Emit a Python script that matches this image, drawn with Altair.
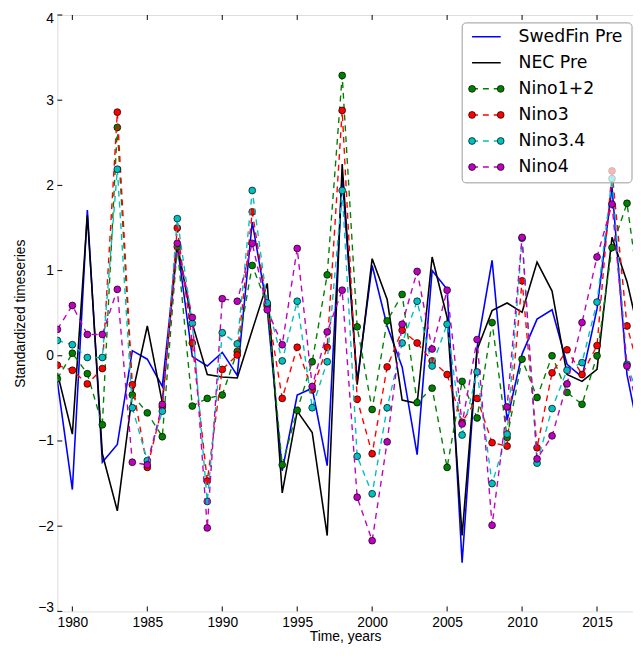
import altair as alt
import pandas as pd

years = list(range(1979, 2019))

swedfin = [-0.30, -1.57, 1.71, -1.25, -1.04, 0.06, -0.04, -0.36, 1.30, -0.01,
           -0.12, 0.04, -0.23, 1.57, 0.55, -1.35, -0.46, -0.38, -1.29, 2.10,
           -0.30, 1.06, 0.35, -0.13, -1.16, 1.00, 0.78, -2.43, 0.10, 1.12,
           -0.76, 0.02, 0.43, 0.54, -0.10, -0.25, 0.55, 1.98, -0.22, -1.10]
nec = [-0.20, -0.92, 1.65, -1.15, -1.82, -0.45, 0.35, -0.55, 1.31, 0.38,
       -0.22, -0.25, -0.26, 0.30, 0.85, -1.61, -0.65, -0.90, -2.11, 2.25,
       -0.34, 1.14, 0.66, -0.52, -0.56, 1.16, 0.45, -2.11, 0.07, 0.53,
       0.62, 0.51, 1.10, 0.76, -0.22, -0.30, -0.16, 1.39, 0.87, 0.10]
nino12 = [-0.27, 0.03, -0.21, -0.81, 2.68, -0.46, -0.67, -0.95, 1.28, -0.59,
          -0.50, -0.46, 0.05, 1.06, 0.60, -1.28, -0.64, -0.07, 0.95, 3.29,
          0.34, -0.63, 0.41, 0.72, -0.55, -0.38, -1.31, -0.30, -0.73, 0.39,
          -0.96, -0.04, -0.49, 0.00, -0.43, -0.57, 0.00, 1.27, 1.79, 0.50]
nino3 = [-0.11, -0.17, -0.33, -0.15, 2.86, -0.34, -1.31, -0.60, 1.50, 0.15,
         -1.47, -0.16, 0.01, 1.69, 0.58, -0.50, 0.10, -0.40, 0.10, 2.88,
         -0.51, -1.15, -0.13, 0.30, 0.15, -0.06, -0.22, -0.78, -0.50, -1.02,
         -1.06, 0.88, -1.08, -0.20, 0.07, -0.22, 0.12, 2.17, 0.35, -0.30]
nino34 = [0.18, 0.13, -0.02, -0.02, 2.19, -0.61, -1.23, -0.65, 1.61, 0.38,
          -1.71, 0.27, 0.14, 1.94, 0.62, -0.06, 0.64, -0.61, -0.07, 1.94,
          -1.18, -1.62, -0.61, 0.15, 0.64, -0.12, 0.37, -0.93, -0.19, -1.50,
          -0.92, 1.38, -1.26, -0.62, -0.17, -0.08, 0.63, 2.08, -0.10, -0.60]
nino4 = [0.31, 0.59, 0.25, 0.25, 0.78, -1.25, -1.28, -0.57, 1.32, 0.45,
         -2.02, 0.67, 0.64, 1.32, 0.54, 0.13, 1.26, -0.36, 0.28, 0.77,
         -1.66, -2.17, -1.01, 0.37, 0.99, 0.08, 0.77, -0.80, 0.19, -1.99,
         -0.60, 1.39, -1.21, -0.94, -0.33, 0.39, 1.16, 1.78, -0.12, -0.80]

names = ["SwedFin Pre", "NEC Pre", "Nino1+2", "Nino3", "Nino3.4", "Nino4"]
colors = ["#0000ff", "#000000", "#008000", "#ff0000", "#00bfbf", "#bf00bf"]
kinds = ["solid", "solid", "dashed", "dashed", "dashed", "dashed"]
x_ticks = [1980, 1985, 1990, 1995, 2000, 2005, 2010, 2015]
y_ticks = [-3, -2, -1, 0, 1, 2, 3, 4]

series_vals = [swedfin, nec, nino12, nino3, nino34, nino4]
rows = []
for n, vals in zip(names, series_vals):
    for yr, v in zip(years, vals):
        rows.append({"year": yr, "value": v, "series": n})
df = pd.DataFrame(rows)

W, H = 583, 604
FONT = "DejaVu Sans"

xscale = alt.Scale(domain=[1979, 2017.4], nice=False, zero=False)
yscale = alt.Scale(domain=[-3, 4], nice=False, zero=False)
cscale = alt.Scale(domain=names, range=colors)

x_enc = alt.X("year:Q", scale=xscale,
              axis=alt.Axis(values=x_ticks, format="d", title="Time, years",
                            grid=False, tickSize=0, domain=False,
                            labelPadding=4, titlePadding=1,
                            labelFontSize=14, titleFontSize=14,
                            titleFontWeight="normal"))
y_enc = alt.Y("value:Q", scale=yscale,
              axis=alt.Axis(values=y_ticks, title="Standardized timeseries",
                            grid=False, tickSize=0, domain=False,
                            labelPadding=4, titlePadding=10,
                            labelFlush=True, labelFlushOffset=3,
                            labelFontSize=14, titleFontSize=14,
                            titleFontWeight="normal",
                            labelExpr="replace(datum.label, '-', '\u2212')"))
c_enc = alt.Color("series:N", scale=cscale, legend=None)
f_enc = alt.Fill("series:N", scale=cscale, legend=None)

base = alt.Chart(df)
main_layers = []
for n, k in zip(names, kinds):
    sub = base.transform_filter(alt.datum.series == n)
    if k == "solid":
        main_layers.append(sub.mark_line(strokeWidth=1.6, clip=True)
                           .encode(x=x_enc, y=y_enc, color=c_enc))
    else:
        main_layers.append(sub.mark_line(strokeWidth=1.4, strokeDash=[6, 5], clip=True)
                           .encode(x=x_enc, y=y_enc, color=c_enc))
        main_layers.append(sub.mark_circle(size=48, opacity=1, stroke="black",
                                           strokeWidth=0.7, clip=True)
                           .encode(x=x_enc, y=y_enc, fill=f_enc))

xt = alt.Chart(pd.DataFrame({"year": x_ticks}))
yt = alt.Chart(pd.DataFrame({"value": y_ticks}))
main_layers.append(xt.mark_rule(color="black", strokeWidth=1)
                   .encode(x=x_enc, y=alt.value(H), y2=alt.value(H - 5)))
main_layers.append(xt.mark_rule(color="black", strokeWidth=1)
                   .encode(x=x_enc, y=alt.value(0), y2=alt.value(5)))
main_layers.append(yt.mark_rule(color="black", strokeWidth=1)
                   .encode(y=y_enc, x=alt.value(0), x2=alt.value(5)))

main = alt.layer(*main_layers)

# legend
leg_df = pd.DataFrame({"series": names, "kind": kinds})
leg = alt.Chart(leg_df)
ly = alt.Y("series:N", scale=alt.Scale(type="point", domain=names, range=[22, 154], padding=0),
           axis=None)
box = alt.Chart(pd.DataFrame({"b": [0]})).mark_rect(
    fill="white", fillOpacity=0.7, stroke="#999999", strokeWidth=1, cornerRadius=4
).encode(x=alt.value(410), x2=alt.value(582), y=alt.value(8), y2=alt.value(170))
leg_lines = leg.mark_rule(strokeWidth=1.5).encode(
    x=alt.value(420), x2=alt.value(449), y=ly, color=c_enc,
    strokeDash=alt.StrokeDash("kind:N", scale=alt.Scale(domain=["solid", "dashed"],
                                                        range=[[1, 0], [6, 5]]),
                              legend=None))
nino_leg = leg.transform_filter(alt.datum.kind == "dashed")
leg_pts1 = nino_leg.mark_circle(size=48, opacity=1, stroke="black", strokeWidth=0.7).encode(
    x=alt.value(420), y=ly, fill=f_enc)
leg_pts2 = nino_leg.mark_circle(size=48, opacity=1, stroke="black", strokeWidth=0.7).encode(
    x=alt.value(449), y=ly, fill=f_enc)
leg_text = leg.mark_text(align="left", baseline="middle", fontSize=17.5, font=FONT,
                         color="black").encode(x=alt.value(467), y=ly, text="series:N")
legend = alt.layer(box, leg_lines, leg_pts1, leg_pts2, leg_text)

chart = alt.layer(main, legend).resolve_scale(y="independent").properties(
    width=W, height=H,
    autosize=alt.AutoSizeParams(type="none"),
    padding={"left": 50, "top": 3, "right": 0, "bottom": 33},
).configure_view(stroke="black", strokeWidth=1).configure_axis(
    labelFont=FONT, titleFont=FONT, labelColor="black", titleColor="black"
).configure(background="white")

chart.save("out.html", embed_options={"renderer": "svg", "actions": False})
